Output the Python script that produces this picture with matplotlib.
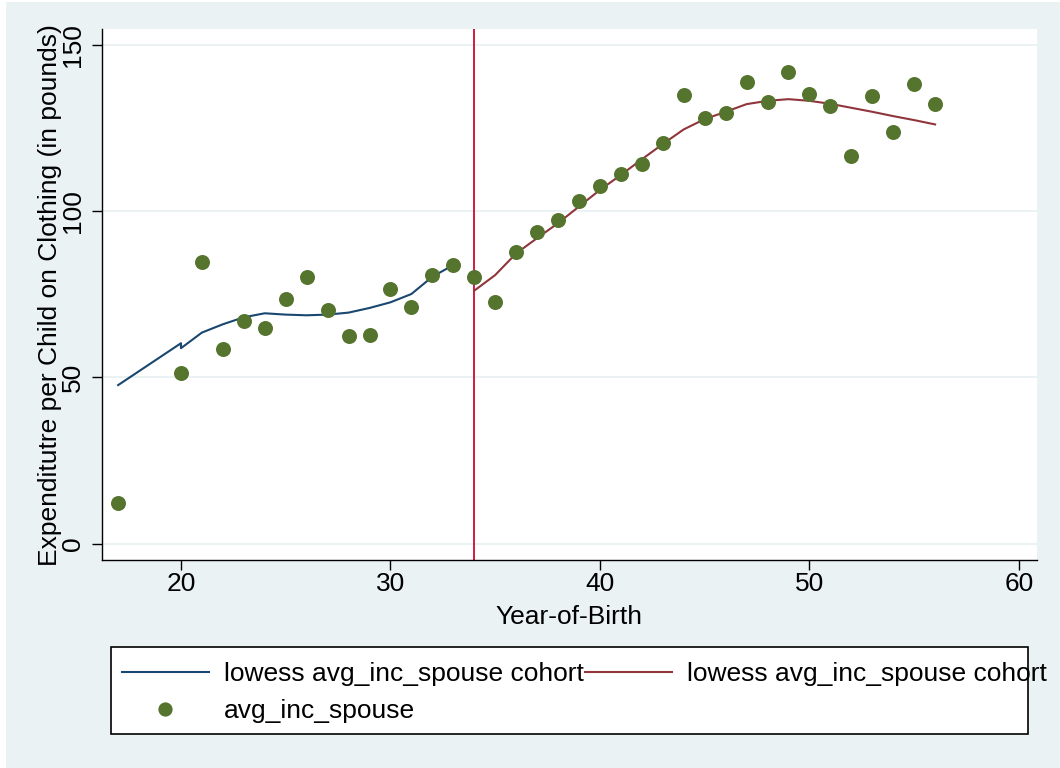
import matplotlib
matplotlib.use("Agg")
import matplotlib.pyplot as plt
from matplotlib.patches import Rectangle

# ---- data ----
cohort = [17, 20, 21, 22, 23, 24, 25, 26, 27, 28, 29, 30, 31, 32, 33, 34, 35,
          36, 37, 38, 39, 40, 41, 42, 43, 44, 45, 46, 47, 48, 49, 50, 51, 52,
          53, 54, 55, 56]
avg_inc_spouse = [12.3, 51.4, 84.6, 58.5, 67.1, 64.8, 73.5, 80.2, 70.2, 62.4,
                  62.7, 76.5, 71.2, 80.8, 83.9, 80.1, 72.6, 87.6, 93.7, 97.3,
                  103.0, 107.5, 111.1, 114.3, 120.4, 134.9, 127.9, 129.4, 138.8,
                  132.9, 141.9, 135.4, 131.6, 116.6, 134.6, 123.9, 138.2, 132.2]

lowess_pre_x = [17, 20, 20, 21, 22, 23, 24, 25, 26, 27, 28, 29, 30, 31, 32, 33]
lowess_pre_y = [47.7, 60.3, 58.8, 63.5, 66.0, 68.1, 69.3, 68.9, 68.7, 68.9,
                69.5, 70.9, 72.6, 75.1, 80.3, 83.8]

lowess_post_x = [34, 35, 36, 37, 38, 39, 40, 41, 42, 43, 44, 45, 46, 47, 48,
                 49, 50, 51, 52, 53, 54, 55, 56]
lowess_post_y = [76.1, 80.8, 87.3, 91.9, 96.4, 101.4, 106.4, 110.9, 115.6,
                 120.2, 124.6, 127.7, 129.9, 132.2, 133.2, 133.7, 133.2, 132.3,
                 131.1, 129.9, 128.6, 127.4, 126.1]

cutoff_year = 34
xticks = [20, 30, 40, 50, 60]
yticks = [0, 50, 100, 150]
legend_labels = ["lowess avg_inc_spouse cohort", "avg_inc_spouse",
                 "lowess avg_inc_spouse cohort"]

# ---- style ----
BG = "#eaf2f3"
BLUE = "#1a476f"
MAROON = "#90353b"
GREEN = "#55752f"
VLINE = "#d21a45"
FS = 19

plt.rcParams["font.family"] = ["Liberation Sans", "DejaVu Sans"]

W, H = 1060, 768
fig = plt.figure(figsize=(W / 100, H / 100), dpi=100, facecolor="white")
fig.patches.append(Rectangle((6 / W, 0), 1 - 6 / W, 1 - 2 / H,
                             transform=fig.transFigure, facecolor=BG,
                             edgecolor="none", zorder=-10))

L, R, T, B = 102, 1036.7, 29, 560
ax = fig.add_axes([L / W, 1 - B / H, (R - L) / W, (B - T) / H])
ax.set_zorder(2)
ax.set_facecolor("white")

ax.set_xlim(16.23, 60.85)
ax.set_ylim(-4.9, 154.8)

for yv in yticks:
    ax.axhline(yv, color=BG, lw=1.4, zorder=0.5)

ax.axvline(cutoff_year, color=VLINE, lw=1.4, zorder=1)
l1, = ax.plot(lowess_pre_x, lowess_pre_y, color=BLUE, lw=1.5, zorder=2)
l2, = ax.plot(lowess_post_x, lowess_post_y, color=MAROON, lw=1.5, zorder=2)
pts, = ax.plot(cohort, avg_inc_spouse, "o", color=GREEN, ms=10.8, mew=0,
               zorder=3)

for s in ["top", "right"]:
    ax.spines[s].set_visible(False)
for s in ["left", "bottom"]:
    ax.spines[s].set_linewidth(1.0)
    ax.spines[s].set_color("black")

ax.set_xticks(xticks)
ax.set_yticks(yticks)
ax.tick_params(axis="both", direction="out", length=7.5, width=1.0,
               labelsize=FS, colors="black")
ax.tick_params(axis="x", pad=1)
ax.tick_params(axis="y", pad=5)
for lab in ax.get_yticklabels():
    lab.set_rotation(90)
    lab.set_va("center")
    lab.set_ha("right")

fig.text(569 / W, 1 - 617 / H, "Year-of-Birth", ha="center", va="center",
         fontsize=FS)
fig.text(50.5 / W, 1 - 295 / H, "Expenditutre per Child on Clothing (in pounds)",
         ha="center", va="center", rotation=90, fontsize=FS, zorder=3)

# legend box (Stata lets the text overflow the frame)
fig.patches.append(Rectangle((110.7 / W, 1 - 734 / H), (1027.7 - 110.7) / W,
                             (734 - 646.7) / H, transform=fig.transFigure,
                             facecolor="white", edgecolor="black", lw=1.2,
                             zorder=1))
leg = fig.legend([l1, pts, l2], legend_labels, ncol=2, frameon=False,
                 loc="upper left", bbox_to_anchor=(122 / W, 1 - 662 / H),
                 borderaxespad=0, borderpad=0, handlelength=3.28,
                 handletextpad=0.57, columnspacing=0.07, labelspacing=0.5,
                 numpoints=1, fontsize=FS, markerscale=0.95)
leg.set_zorder(5)

fig.savefig("out.png", dpi=100, facecolor=fig.get_facecolor())
